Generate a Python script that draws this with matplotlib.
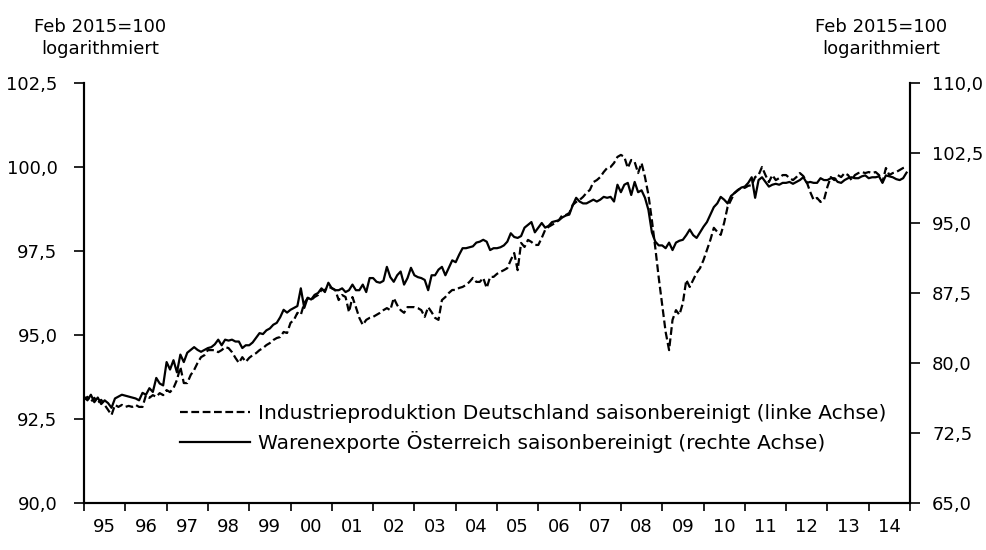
import numpy as np
import matplotlib
matplotlib.use("Agg")
import matplotlib.pyplot as plt
from matplotlib.ticker import FixedLocator, FuncFormatter

# monthly values Jan 1995 - Dec 2014
industrie_de = [
    93.07, 93.16, 93.01, 93.13, 92.98, 93.07, 92.92, 92.77, 92.62, 92.92, 92.86, 92.92,  # 1995
    92.86, 92.89, 92.86, 92.92, 92.86, 92.86, 93.21, 93.13, 93.21, 93.16, 93.27, 93.21,  # 1996
    93.36, 93.30, 93.42, 93.66, 94.05, 93.57, 93.57, 93.81, 93.96, 94.17, 94.34, 94.40,  # 1997
    94.55, 94.55, 94.55, 94.49, 94.55, 94.64, 94.61, 94.49, 94.32, 94.17, 94.34, 94.20,  # 1998
    94.32, 94.40, 94.46, 94.55, 94.61, 94.70, 94.76, 94.85, 94.91, 94.94, 95.09, 95.06,  # 1999
    95.36, 95.45, 95.66, 95.60, 95.95, 96.10, 96.04, 96.13, 96.19, 96.34, 96.34, 96.43,  # 2000
    96.40, 96.34, 96.04, 96.19, 96.13, 95.68, 96.13, 95.83, 95.51, 95.30, 95.45, 95.51,  # 2001
    95.54, 95.60, 95.66, 95.74, 95.80, 95.74, 96.10, 95.89, 95.74, 95.66, 95.83, 95.83,  # 2002
    95.83, 95.80, 95.74, 95.54, 95.83, 95.68, 95.51, 95.45, 96.04, 96.13, 96.25, 96.34,  # 2003
    96.34, 96.40, 96.43, 96.49, 96.58, 96.70, 96.58, 96.58, 96.70, 96.40, 96.73, 96.73,  # 2004
    96.82, 96.88, 96.93, 96.99, 97.23, 97.44, 96.93, 97.74, 97.62, 97.83, 97.77, 97.68,  # 2005
    97.68, 97.89, 98.13, 98.22, 98.28, 98.34, 98.42, 98.57, 98.57, 98.63, 98.87, 98.96,  # 2006
    99.02, 99.11, 99.23, 99.32, 99.55, 99.61, 99.70, 99.85, 99.97, 100.00, 100.12, 100.30,  # 2007
    100.36, 100.30, 99.97, 100.21, 100.15, 99.82, 100.12, 99.70, 99.17, 98.42, 97.59, 96.70,  # 2008
    95.89, 95.09, 94.55, 95.45, 95.74, 95.60, 95.95, 96.64, 96.43, 96.64, 96.85, 96.99,  # 2009
    97.23, 97.53, 97.83, 98.19, 98.07, 97.98, 98.34, 98.81, 99.02, 99.23, 99.32, 99.38,  # 2010
    99.38, 99.44, 99.46, 99.70, 99.76, 100.00, 99.76, 99.55, 99.76, 99.61, 99.67, 99.76,  # 2011
    99.76, 99.67, 99.61, 99.70, 99.82, 99.73, 99.55, 99.26, 99.02, 99.08, 98.96, 99.02,  # 2012
    99.41, 99.70, 99.61, 99.76, 99.70, 99.82, 99.76, 99.61, 99.76, 99.82, 99.85, 99.82,  # 2013
    99.85, 99.82, 99.85, 99.76, 99.55, 99.97, 99.76, 99.82, 99.85, 99.91, 99.97, 100.00,  # 2014
]

exporte_at = [
    76.4, 76.0, 76.6, 75.8, 76.3, 75.6, 76.0, 75.7, 75.2, 76.2, 76.4, 76.6,  # 1995
    76.5, 76.4, 76.3, 76.2, 76.0, 76.8, 76.6, 77.3, 76.9, 78.4, 77.8, 77.6,  # 1996
    80.1, 79.3, 80.3, 79.0, 80.9, 80.1, 81.1, 81.4, 81.7, 81.4, 81.2, 81.4,  # 1997
    81.6, 81.7, 82.0, 82.5, 81.9, 82.5, 82.4, 82.5, 82.3, 82.3, 81.6, 81.9,  # 1998
    81.9, 82.2, 82.7, 83.2, 83.1, 83.5, 83.7, 84.1, 84.3, 84.9, 85.7, 85.4,  # 1999
    85.7, 85.9, 86.1, 88.0, 85.9, 87.0, 86.8, 87.3, 87.5, 88.0, 87.6, 88.6,  # 2000
    88.0, 87.8, 87.8, 88.0, 87.6, 87.8, 88.4, 87.8, 87.8, 88.4, 87.6, 89.1,  # 2001
    89.1, 88.7, 88.6, 88.8, 90.3, 89.2, 88.7, 89.4, 89.8, 88.4, 89.1, 90.2,  # 2002
    89.4, 89.2, 89.1, 88.9, 87.8, 89.4, 89.4, 90.0, 90.3, 89.4, 90.2, 91.0,  # 2003
    90.8, 91.6, 92.3, 92.3, 92.4, 92.5, 92.9, 93.0, 93.2, 93.0, 92.1, 92.3,  # 2004
    92.3, 92.4, 92.6, 93.0, 93.9, 93.5, 93.4, 93.6, 94.5, 94.8, 95.1, 94.0,  # 2005
    94.5, 95.0, 94.5, 94.7, 95.1, 95.2, 95.3, 95.6, 95.8, 95.9, 96.9, 97.7,  # 2006
    97.3, 97.1, 97.1, 97.3, 97.5, 97.3, 97.5, 97.8, 97.7, 97.8, 97.3, 99.1,  # 2007
    98.3, 99.1, 99.3, 98.0, 99.4, 98.3, 98.5, 97.7, 96.4, 94.0, 93.0, 92.6,  # 2008
    92.6, 92.3, 92.9, 92.1, 92.9, 93.1, 93.2, 93.7, 94.3, 93.7, 93.4, 94.0,  # 2009
    94.6, 95.1, 95.9, 96.7, 97.1, 97.8, 97.5, 97.1, 97.9, 98.2, 98.5, 98.8,  # 2010
    98.9, 99.3, 99.9, 97.7, 99.6, 99.9, 99.4, 98.9, 99.1, 99.2, 99.1, 99.3,  # 2011
    99.3, 99.4, 99.2, 99.4, 99.6, 99.9, 99.3, 99.4, 99.3, 99.3, 99.8, 99.6,  # 2012
    99.6, 99.8, 99.8, 99.4, 99.3, 99.6, 99.8, 99.9, 99.8, 99.8, 100.0, 100.1,  # 2013
    99.8, 99.9, 99.9, 100.0, 99.3, 100.1, 100.0, 99.9, 99.7, 99.6, 99.8, 100.4,  # 2014
]

years = list(range(1995, 2015))
year_labels = [f"{y % 100:02d}" for y in years]
left_ticks = [90.0, 92.5, 95.0, 97.5, 100.0, 102.5]
right_ticks = [65.0, 72.5, 80.0, 87.5, 95.0, 102.5, 110.0]

label_de = "Industrieproduktion Deutschland saisonbereinigt (linke Achse)"
label_at = "Warenexporte Österreich saisonbereinigt (rechte Achse)"

plt.rcParams["font.family"] = ["DejaVu Sans"]
plt.rcParams["font.size"] = 13

months = np.arange(len(industrie_de))
t = 1995 + months / 12.0

fig = plt.figure(figsize=(9.86, 5.5), dpi=100)
ax = fig.add_axes([84 / 986, 1 - 503 / 550, (910 - 84) / 986, 420 / 550])
ax2 = ax.twinx()

l1, = ax.plot(t, industrie_de, color="black", lw=1.6, linestyle=(0, (3.5, 1.6)))
l2, = ax2.plot(t, exporte_at, color="black", lw=1.6)

fmt = FuncFormatter(lambda v, p: f"{v:.1f}".replace(".", ","))

ax.set_xlim(1995, 2015)
ax.set_ylim(90, 102.5)
ax2.set_ylim(65, 110)
ax.set_yticks(left_ticks)
ax2.set_yticks(right_ticks)
ax.yaxis.set_major_formatter(fmt)
ax2.yaxis.set_major_formatter(fmt)

ax.xaxis.set_major_locator(FixedLocator(list(range(1995, 2016))))
ax.xaxis.set_major_formatter(plt.NullFormatter())
ax.set_xticks([y + 0.5 for y in years], minor=True)
ax.set_xticklabels(year_labels, minor=True)
ax.tick_params(axis="x", which="minor", length=0, pad=11)
ax.tick_params(axis="x", which="major", direction="out", length=6, width=1.2)
ax.tick_params(axis="y", direction="out", length=7, width=1.2, pad=12)
ax2.tick_params(axis="y", direction="out", length=7, width=1.2, pad=9)

for a in (ax, ax2):
    a.spines["top"].set_visible(False)
    for s in ("left", "right", "bottom"):
        a.spines[s].set_linewidth(1.5)

fig.text(100 / 986, 1 - 27 / 550, "Feb 2015=100", ha="center", va="center", fontsize=13)
fig.text(100 / 986, 1 - 49 / 550, "logarithmiert", ha="center", va="center", fontsize=13)
fig.text(881 / 986, 1 - 27 / 550, "Feb 2015=100", ha="center", va="center", fontsize=13)
fig.text(881 / 986, 1 - 49 / 550, "logarithmiert", ha="center", va="center", fontsize=13)

ax2.legend([l1, l2], [label_de, label_at], loc="upper left",
           bbox_to_anchor=((180 - 84) / 826, (503 - 404) / 420),
           frameon=False, handlelength=3.5, handletextpad=0.35,
           labelspacing=0.4, borderaxespad=0, borderpad=0, fontsize=14.5)

fig.savefig("out.png", dpi=100)
